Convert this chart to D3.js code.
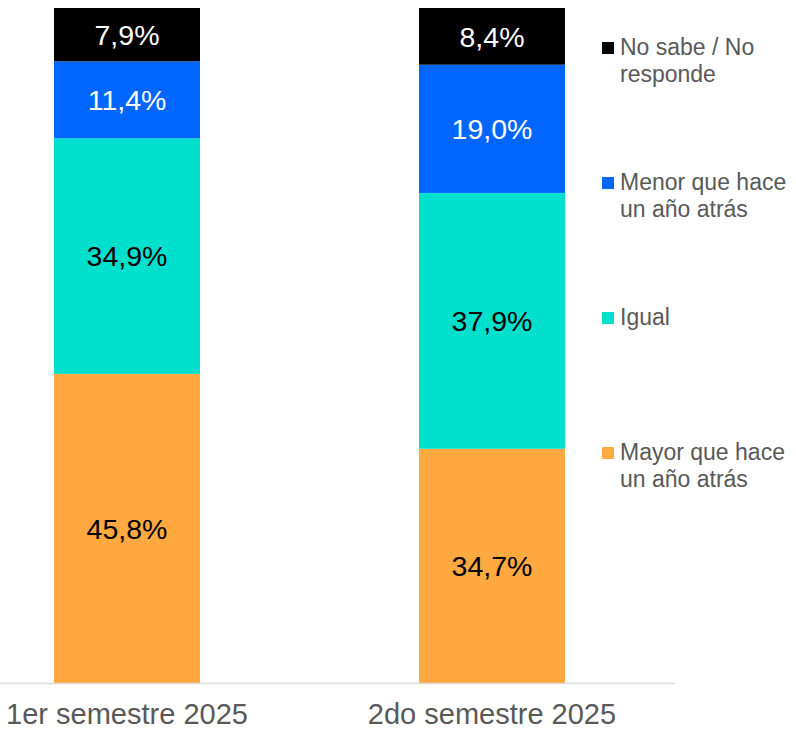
<!DOCTYPE html>
<html>
<head>
<meta charset="utf-8">
<script src="https://cdn.jsdelivr.net/npm/d3@7/dist/d3.min.js"></script>
<style>
  html, body { margin: 0; padding: 0; background: #ffffff; }
  svg { display: block; font-family: Arial, "Liberation Sans", sans-serif; }
</style>
</head>
<body>
<svg id="chart" width="796" height="730"></svg>
<script>
const categories = ["1er semestre 2025", "2do semestre 2025"];
const seriesNames = ["Mayor que hace un año atrás", "Igual", "Menor que hace un año atrás", "No sabe / No responde"];
const legendLines = [["No sabe / No", "responde"], ["Menor que hace", "un año atrás"], ["Igual"], ["Mayor que hace", "un año atrás"]];
const mayor = [45.8, 34.7];
const igual = [34.9, 37.9];
const menor = [11.4, 19.0];
const noSabe = [7.9, 8.4];
const seriesValues = [mayor, igual, menor, noSabe];
const colors = ["#FFA940", "#00E0CC", "#0066FF", "#000000"];
const labelColors = ["#000000", "#000000", "#ffffff", "#ffffff"];

const svg = d3.select("#chart");
const x = d3.scaleBand().domain(categories).range([-55.5, 674.5]).paddingInner(0.6).paddingOuter(0.3);
const y = d3.scaleLinear().domain([0, 100]).range([683, 8]);

const rows = categories.map((c, i) => {
  const r = { cat: c };
  seriesNames.forEach((s, j) => r[s] = seriesValues[j][i]);
  return r;
});
const stacked = d3.stack().keys(seriesNames)(rows);

const fmt = v => v.toFixed(1).replace(".", ",") + "%";

stacked.forEach((layer, j) => {
  const g = svg.append("g");
  g.selectAll("rect").data(layer).join("rect")
    .attr("x", d => x(d.data.cat))
    .attr("width", x.bandwidth())
    .attr("y", d => y(d[1]))
    .attr("height", d => y(d[0]) - y(d[1]))
    .attr("fill", colors[j]);
  g.selectAll("text").data(layer).join("text")
    .attr("x", d => x(d.data.cat) + x.bandwidth() / 2)
    .attr("y", d => (y(d[0]) + y(d[1])) / 2)
    .attr("dy", "0.36em")
    .attr("text-anchor", "middle")
    .attr("font-size", 28.5)
    .attr("fill", labelColors[j])
    .text(d => fmt(d[1] - d[0]));
});

// baseline
svg.append("line")
  .attr("x1", 0).attr("x2", 675)
  .attr("y1", y(0) + 0.5).attr("y2", y(0) + 0.5)
  .attr("stroke", "#D9D9D9").attr("stroke-width", 1.5);

// category axis labels
const xAxis = d3.axisBottom(x).tickSize(0).tickPadding(0);
const ax = svg.append("g").attr("transform", `translate(0, ${y(0)})`).call(xAxis);
ax.select(".domain").remove();
ax.selectAll("text")
  .attr("y", 41)
  .attr("dy", 0)
  .attr("font-size", 29)
  .attr("font-family", "Arial, 'Liberation Sans', sans-serif")
  .attr("fill", "#595959");

// legend (top to bottom: reversed series order)
const legendOrder = [3, 2, 1, 0];
legendOrder.forEach((sIdx, i) => {
  const top = 42 + i * 135;
  const g = svg.append("g");
  g.append("rect")
    .attr("x", 602).attr("y", top)
    .attr("width", 12).attr("height", 12)
    .attr("fill", colors[sIdx]);
  const t = g.append("text")
    .attr("x", 620).attr("y", top + 13)
    .attr("font-size", 23)
    .attr("fill", "#595959");
  legendLines[i].forEach((line, k) => {
    t.append("tspan").attr("x", 620).attr("dy", k === 0 ? 0 : 26.5).text(line);
  });
});
</script>
</body>
</html>
